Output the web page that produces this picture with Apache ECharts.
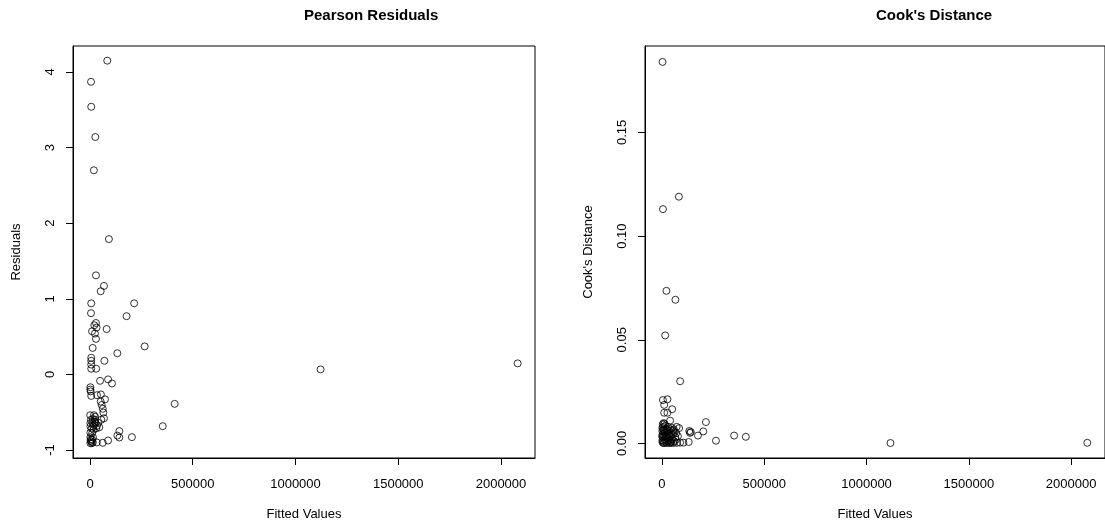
<!DOCTYPE html>
<html>
<head>
<meta charset="utf-8">
<script src="https://cdn.jsdelivr.net/npm/echarts@6/dist/echarts.min.js"></script>
<style>html,body{margin:0;padding:0;background:#fff}#c{width:1105px;height:526px}</style>
</head>
<body>
<div id="c"></div>
<script>
// Left panel: Pearson residuals vs fitted values
var leftFitted = [84000,5000,6000,26000,19000,92000,29000,68000,52000,6000,215000,5000,178000,29000,21000,32000,81000,10000,24000,29000,13000,266000,133000,6000,6000,70000,6000,6000,30000,1122000,2081000,49000,88000,107000,2000,2000,3000,6000,34000,53000,73000,52000,57000,62000,65000,412000,354000,1000,19000,68000,55000,14000,25000,22000,2000,12000,27000,40000,2000,16000,34000,8000,30000,143000,2000,11000,133000,143000,204000,2000,15000,4000,11000,7000,88000,62000,33000,2000,9000,20000,45000,5000,18000,3000,14000,25000];
var residuals = [4.15,3.87,3.54,3.14,2.70,1.79,1.31,1.17,1.10,0.94,0.94,0.81,0.77,0.68,0.65,0.62,0.60,0.57,0.54,0.47,0.35,0.37,0.28,0.22,0.18,0.18,0.13,0.075,0.075,0.066,0.146,-0.085,-0.066,-0.12,-0.17,-0.20,-0.225,-0.285,-0.275,-0.265,-0.33,-0.36,-0.405,-0.455,-0.505,-0.39,-0.685,-0.54,-0.54,-0.58,-0.60,-0.59,-0.60,-0.625,-0.645,-0.64,-0.645,-0.64,-0.69,-0.69,-0.68,-0.715,-0.715,-0.75,-0.77,-0.775,-0.81,-0.835,-0.83,-0.83,-0.835,-0.86,-0.865,-0.89,-0.875,-0.905,-0.90,-0.91,-0.91,-0.665,-0.70,-0.60,-0.73,-0.88,-0.90,-0.56];

// Right panel: Cook's distance vs fitted values
var rightFitted = [3000,83000,5000,22000,66000,16000,89000,5000,27000,11000,50000,11000,27000,40000,215000,8000,72000,84000,2000,20000,40000,58000,134000,141000,137000,202000,176000,264000,353000,410000,131000,105000,89000,73000,44000,1117000,2079000,2000,3000,4000,2000,3000,8000,12000,14000,10000,15000,18000,22000,25000,28000,30000,35000,38000,45000,50000,55000,60000,65000,6000,17000,30000,48000,6000,20000,9000,26000,70000,33000,1000,42000,56000,78000,12000,24000,36000,62000,16000,7000,54000,4000,13000,21000,31000,46000,68000];
var cooks = [0.184,0.119,0.113,0.0736,0.0693,0.0521,0.030,0.0209,0.0213,0.0186,0.0165,0.0148,0.0148,0.011,0.0103,0.0098,0.008,0.0074,0.0075,0.0072,0.0068,0.0068,0.006,0.0055,0.0051,0.0058,0.0038,0.0013,0.0038,0.0032,0.0007,0.0004,0.0004,0.0003,0.0003,0.0002,0.0003,0.006,0.0045,0.003,0.0015,0.0005,0.0002,0.0065,0.005,0.0035,0.002,0.0008,0.0055,0.004,0.0025,0.001,0.006,0.0035,0.005,0.002,0.0045,0.001,0.003,0.008,0.0085,0.008,0.0075,0.0012,0.003,0.0055,0.0065,0.005,0.0015,0.0035,0.0005,0.0002,0.0035,0.0002,0.0002,0.0002,0.0055,0.0035,0.0068,0.0062,0.0092,0.0095,0.0015,0.0045,0.0012,0.0018];

var xTicks = [0, 500000, 1000000, 1500000, 2000000];
var residTicks = [-1, 0, 1, 2, 3, 4];
var cookTicks = [0, 0.05, 0.10, 0.15];
var titles = ["Pearson Residuals", "Cook's Distance"];
var xName = "Fitted Values";
var yNames = ["Residuals", "Cook's Distance"];

function pairs(xs, ys){ var out=[]; for(var i=0;i<xs.length;i++) out.push([xs[i], ys[i]]); return out; }

var FONT = '"Liberation Sans", Arial, sans-serif';
var txt = {color:'#000', fontFamily:FONT, fontSize:13};

function xAxis(idx){
  return {
    type:'value', gridIndex:idx, min:-82700, max:2165450,
    name:xName, nameLocation:'middle', nameGap:50,
    nameTextStyle:txt,
    splitLine:{show:false},
    axisLine:{show:true, onZero:false, lineStyle:{color:'#000', width:1}},
    axisTick:{show:true, length:7, customValues:xTicks, lineStyle:{color:'#000'}},
    axisLabel:Object.assign({customValues:xTicks, margin:20, formatter:function(v){return String(v);}}, txt)
  };
}
function yAxis(idx, min, max, ticks, fmt){
  return {
    type:'value', gridIndex:idx, min:min, max:max,
    name:yNames[idx], nameLocation:'middle', nameGap:50,
    nameTextStyle:txt,
    splitLine:{show:false},
    axisLine:{show:true, onZero:false, lineStyle:{color:'#000', width:1}},
    axisTick:{show:true, length:7, customValues:ticks, lineStyle:{color:'#000'}},
    axisLabel:Object.assign({customValues:ticks, rotate:90, margin:16, formatter:fmt}, txt)
  };
}
var sym = {color:'rgba(0,0,0,0)', borderColor:'#000', borderWidth:1};

var chart = echarts.init(document.getElementById('c'), null, {renderer:'canvas'});
chart.setOption({
  animation:false,
  backgroundColor:'#fff',
  graphic:[
    {type:'text', left:304, top:8, style:{text:titles[0], font:'bold 15px '+FONT, fill:'#000', textAlign:'center'}},
    {type:'text', left:876, top:8, style:{text:titles[1], font:'bold 15px '+FONT, fill:'#000', textAlign:'center'}}
  ],
  grid:[
    {left:73, top:46, width:462, height:413, show:true, borderColor:'#000', borderWidth:1, backgroundColor:'transparent'},
    {left:645, top:46, width:462, height:413, show:true, borderColor:'#000', borderWidth:1, backgroundColor:'transparent'}
  ],
  xAxis:[xAxis(0), xAxis(1)],
  yAxis:[
    yAxis(0, -1.106, 4.344, residTicks, function(v){return String(v);}),
    yAxis(1, -0.00702, 0.19168, cookTicks, function(v){return v.toFixed(2);})
  ],
  series:[
    {type:'scatter', xAxisIndex:0, yAxisIndex:0, symbol:'circle', symbolSize:7, itemStyle:sym, data:pairs(leftFitted, residuals)},
    {type:'scatter', xAxisIndex:1, yAxisIndex:1, symbol:'circle', symbolSize:7, itemStyle:sym, data:pairs(rightFitted, cooks)}
  ]
});
</script>
</body>
</html>
